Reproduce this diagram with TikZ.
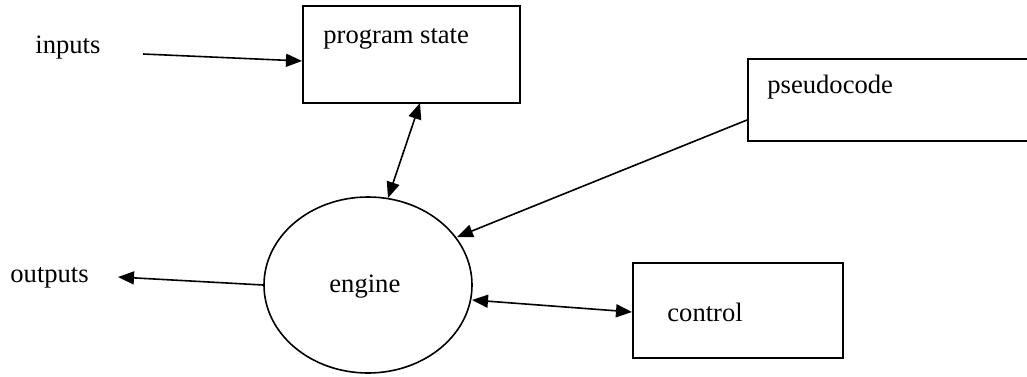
\documentclass[tikz,border=0pt]{standalone}
\usepackage{fontspec}
\setmainfont{Liberation Serif}
\usetikzlibrary{arrows.meta,shapes.geometric}
\begin{document}
\begin{tikzpicture}[x=0.5pt,y=-0.5pt,
  box/.style={draw,line width=1pt,rectangle,inner sep=0pt,anchor=north west},
  lbl/.style={inner sep=0pt,anchor=base west,font=\fontsize{13.3}{16}\selectfont},
  tip/.style={Triangle[length=8pt,width=6.5pt]},
  conn/.style={line width=0.8pt,-{Triangle[length=8pt,width=6.5pt]}},
  dconn/.style={line width=0.8pt,{Triangle[length=8pt,width=6.5pt]}-{Triangle[length=8pt,width=6.5pt]}}]
\useasboundingbox (0,0) rectangle (1027,376);
\clip (0,0) rectangle (1027,376);
\fill[white] (0,0) rectangle (1027,376);
% boxes
\node[box,minimum width=108.5pt,minimum height=48.5pt] (ps) at (302,5) {};
\node[box,minimum width=150pt,minimum height=41pt] (pc) at (747,58) {};
\node[box,minimum width=105pt,minimum height=47.5pt] (ct) at (632,262) {};
\node[draw,line width=0.8pt,ellipse,inner sep=0pt,minimum width=104pt,minimum height=88pt] (eng) at (368,285) {};
% labels
\node[lbl] (tin) at (35,53) {inputs};
\node[lbl] (tout) at (10,282) {outputs};
\node[lbl] (tps) at (323,43) {program state};
\node[lbl] (tpc) at (767,93) {pseudocode};
\node[lbl] (tct) at (667,321) {control};
\node[lbl] (teng) at (329,292) {engine};
% connector points
\coordinate (inS) at (143,54);
\coordinate (inE) at (ps.west |- 0,61);
\coordinate (outE) at (118,277);
\coordinate (psB) at (420,103);
\coordinate (engT) at (388,198);
\coordinate (pcL) at (pc.west |- 0,120);
\coordinate (engR) at (457,237);
\coordinate (engE) at (472,300);
\coordinate (ctL) at (ct.west |- 0,312);
% connectors
\draw[conn] (inS) -- (inE);
\draw[conn] (eng.west) -- (outE);
\draw[dconn] (psB) -- (engT);
\draw[conn] (pcL) -- (engR);
\draw[dconn] (engE) -- (ctL);
\end{tikzpicture}
\end{document}
